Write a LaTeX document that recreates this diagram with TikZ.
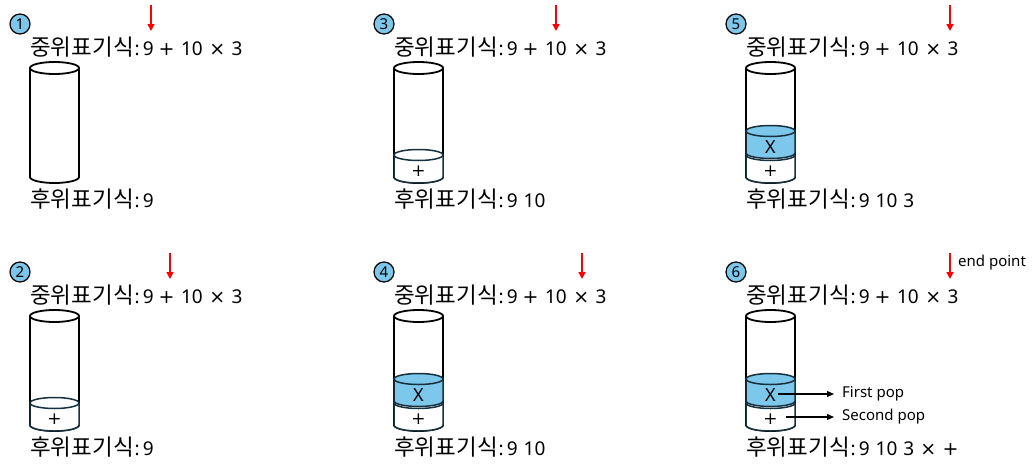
\documentclass[tikz,border=0pt]{standalone}
\usepackage{fontspec}
\newfontfamily\kr{Noto Sans CJK KR}
\newfontfamily\ns{Noto Sans}
\newfontfamily\dv{DejaVu Sans}
\usetikzlibrary{arrows.meta}
\definecolor{skyb}{RGB}{125,199,234}
\definecolor{diskln}{RGB}{22,48,62}
\tikzset{
  cylline/.style={draw=black, line width=1.8pt, fill=white},
  diskline/.style={draw=diskln, line width=1.5pt},
  exprtext/.style={anchor=base west, inner sep=0pt, font=\ns\fontsize{19pt}{23pt}\selectfont},
  badge/.style={circle, draw=black, line width=1.2pt, fill=skyb, minimum size=20pt, inner sep=0pt, font=\ns\fontsize{15pt}{17pt}\selectfont},
  redarrow/.style={draw=red, line width=1.6pt, -{Triangle[length=7pt,width=7pt]}},
  disklabel/.style={inner sep=0pt, font=\ns\fontsize{18pt}{20pt}\selectfont},
  plusdisklabel/.style={inner sep=0pt, font=\dv\fontsize{17pt}{19pt}\selectfont},
  poplabel/.style={anchor=west, inner sep=0pt, font=\ns\fontsize{15pt}{17pt}\selectfont},
  poparrow/.style={draw=black, line width=1.2pt, -{Triangle[length=7pt,width=6pt]}},
}
\newcommand{\kor}[1]{{\kr\fontsize{22.5pt}{26pt}\selectfont #1}}
\newcommand{\gp}{\hspace{6.5pt}}
\newcommand{\pl}{{\dv +}}
\newcommand{\tm}{{\dv ×}}
\newcommand{\panelbase}[6]{%
  \begin{scope}[shift={(#2,#3)}]
    \node[badge] (#1-badge) at (20,24) {#4};
    \coordinate (#1-a1) at (#5,5);
    \coordinate (#1-a2) at (#5,31);
    \draw[redarrow] (#1-a1) -- (#1-a2);
    \node[exprtext] (#1-in) at (30,55) {\kor{중위표기식}\hspace{1pt}:\hspace{3pt}9\hspace{5pt}\pl\gp10\gp\tm\gp3};
    \node[exprtext] (#1-post) at (30,207) {\kor{후위표기식}\hspace{1pt}:\hspace{3pt}#6};
    \draw[cylline] (30,68) -- (30,177) arc[start angle=180,end angle=360,x radius=24.5pt,y radius=6pt] -- (79,68);
    \draw[cylline] (54.5,68) ellipse[x radius=24.5pt,y radius=6pt];
  \end{scope}}
\newcommand{\plusdisk}[3]{%
  \begin{scope}[shift={(#2,#3)}]
    \filldraw[diskline, fill=white] (30,155) -- (30,177) arc[start angle=180,end angle=360,x radius=24.5pt,y radius=6pt] -- (79,155) arc[start angle=0,end angle=180,x radius=24.5pt,y radius=5.5pt] -- cycle;
    \draw[diskline] (30,155) arc[start angle=180,end angle=360,x radius=24.5pt,y radius=5.5pt];
    \node[plusdisklabel] (#1-plus) at (54.5,171) {+};
  \end{scope}}
\newcommand{\xdisk}[3]{%
  \begin{scope}[shift={(#2,#3)}]
    \filldraw[diskline, fill=skyb] (30,131) -- (30,153) arc[start angle=180,end angle=360,x radius=24.5pt,y radius=5.5pt] -- (79,131) arc[start angle=0,end angle=180,x radius=24.5pt,y radius=5.5pt] -- cycle;
    \draw[diskline] (30,131) arc[start angle=180,end angle=360,x radius=24.5pt,y radius=5.5pt];
    \node[disklabel] (#1-x) at (54.5,147) {X};
  \end{scope}}
\begin{document}
\begin{tikzpicture}[x=1pt,y=-1pt]
  \useasboundingbox[fill=white] (0,0) rectangle (1033,474);
  % panel 1
  \panelbase{p1}{0}{0}{1}{151}{9}
  % panel 2
  \panelbase{p2}{0}{248}{2}{170}{9}
  \plusdisk{p2}{0}{248}
  % panel 3
  \panelbase{p3}{364}{0}{3}{192}{9\hspace{6pt}10}
  \plusdisk{p3}{364}{0}
  % panel 4
  \panelbase{p4}{364}{248}{4}{218}{9\hspace{6pt}10}
  \plusdisk{p4}{364}{248}
  \xdisk{p4}{364}{248}
  % panel 5
  \panelbase{p5}{716}{0}{5}{234}{9\hspace{6pt}10\hspace{6pt}3}
  \plusdisk{p5}{716}{0}
  \xdisk{p5}{716}{0}
  % panel 6
  \panelbase{p6}{716}{248}{6}{234}{9\hspace{6pt}10\hspace{6pt}3\hspace{6pt}\tm\hspace{6.5pt}\pl}
  \plusdisk{p6}{716}{248}
  \xdisk{p6}{716}{248}
  \begin{scope}[shift={(716,248)}]
    \node[poplabel] (endpt) at (242,15) {end point};
    \node[poplabel] (fpop) at (126,146) {First pop};
    \node[poplabel] (spop) at (126,169) {Second pop};
  \end{scope}
  \draw[poparrow] ([xshift=2pt]p6-x.east |- fpop.west) -- ([xshift=-8pt]fpop.west);
  \draw[poparrow] ([xshift=8pt]p6-plus.east |- spop.west) -- ([xshift=-8pt]spop.west);
\end{tikzpicture}
\end{document}
